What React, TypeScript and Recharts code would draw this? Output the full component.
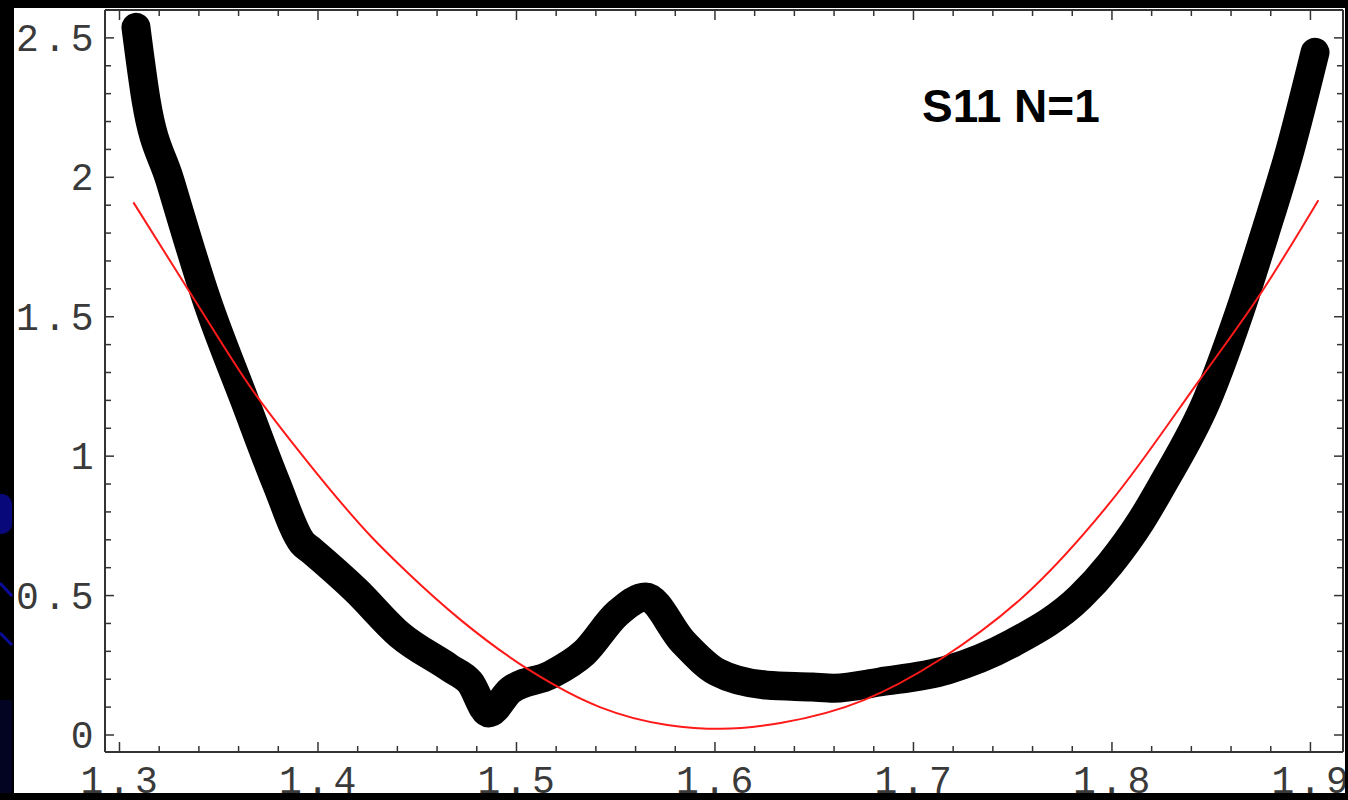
import React from 'react';
import { ComposedChart, Line, XAxis, YAxis } from 'recharts';

// measured curve (thick dotted trace)
const measuredX = [
  1.3083, 1.3134, 1.3254, 1.344, 1.363, 1.379, 1.392, 1.397, 1.419, 1.441, 1.4665, 1.4765, 1.486,
  1.497, 1.517, 1.534, 1.551, 1.565, 1.584, 1.601, 1.626, 1.649, 1.66, 1.683, 1.717, 1.75, 1.784,
  1.799, 1.8146, 1.8256, 1.8478, 1.8634, 1.8771, 1.8897, 1.9023,
];
const measuredY = [
  2.538, 2.276, 1.989, 1.559, 1.201, 0.903, 0.69, 0.66, 0.52, 0.36, 0.24, 0.19, 0.079,
  0.161, 0.215, 0.294, 0.437, 0.495, 0.333, 0.226, 0.179, 0.172, 0.168, 0.19, 0.233, 0.33, 0.495,
  0.613, 0.767, 0.9, 1.2, 1.498, 1.8, 2.097, 2.448,
];

// fitted curve (thin red)
const fitX = [
  1.307, 1.337, 1.366, 1.394, 1.427, 1.444, 1.472, 1.508, 1.542, 1.576, 1.603, 1.633, 1.675, 1.713,
  1.759, 1.8, 1.843, 1.876, 1.904,
];
const fitY = [
  1.91, 1.57, 1.247, 0.986, 0.71, 0.59, 0.412, 0.226, 0.1, 0.036, 0.022, 0.043, 0.125, 0.269, 0.52,
  0.842, 1.262, 1.595, 1.918,
];

const xMajor = [1.3, 1.4, 1.5, 1.6, 1.7, 1.8, 1.9];
const yMajor = [0, 0.5, 1, 1.5, 2, 2.5];
const xTicks = Array.from({ length: 31 }, (_, i) => +(1.3 + i * 0.02).toFixed(2));
const yTicks = Array.from({ length: 27 }, (_, i) => +(i * 0.1).toFixed(1));

const measured = measuredX.map((x, i) => ({ x, y: measuredY[i] }));
const fit = fitX.map((x, i) => ({ x, y: fitY[i] }));

const isMajor = (v: number, list: number[]) => list.some((m) => Math.abs(m - v) < 1e-6);

const axisColor = '#333';
const labelFont = { fontFamily: '"Liberation Mono", "Courier New", monospace', fontSize: 38, letterSpacing: 4.5, fill: '#3a3a3a' };

const BottomTick = (props: any) => {
  const { x, y, payload } = props;
  const major = isMajor(payload.value, xMajor);
  return (
    <g>
      <line x1={x} x2={x} y1={y} y2={y - (major ? 10 : 6)} stroke={axisColor} strokeWidth={1.5} />
      {major && (
        <text x={x + 2} y={793} textAnchor="middle" {...labelFont}>
          {payload.value.toFixed(1)}
        </text>
      )}
    </g>
  );
};

const TopTick = (props: any) => {
  const { x, y, payload } = props;
  const major = isMajor(payload.value, xMajor);
  return <line x1={x} x2={x} y1={y} y2={y + (major ? 10 : 6)} stroke={axisColor} strokeWidth={1.5} />;
};

const LeftTick = (props: any) => {
  const { x, y, payload } = props;
  const major = isMajor(payload.value, yMajor);
  return (
    <g>
      <line x1={x} x2={x + (major ? 9 : 6)} y1={y} y2={y} stroke={axisColor} strokeWidth={1.5} />
      {major && (
        <text x={x - 7} y={y + 13} textAnchor="end" {...labelFont}>
          {String(payload.value)}
        </text>
      )}
    </g>
  );
};

const RightTick = (props: any) => {
  const { x, y, payload } = props;
  const major = isMajor(payload.value, yMajor);
  return <line x1={x} x2={x - (major ? 9 : 6)} y1={y} y2={y} stroke={axisColor} strokeWidth={1.5} />;
};

export default function App() {
  return (
    <div style={{ position: 'absolute', left: 0, top: 0, width: 1348, height: 800, background: '#fff', overflow: 'hidden' }}>
      <ComposedChart width={1348} height={800} margin={{ top: 0, right: 0, bottom: 0, left: 0 }}>
        <XAxis
          xAxisId="b"
          type="number"
          dataKey="x"
          orientation="bottom"
          domain={[1.2927, 1.9164]}
          allowDataOverflow
          ticks={xTicks}
          interval={0}
          height={48}
          tickSize={0}
          tickMargin={0}
          tickLine={false}
          axisLine={{ stroke: axisColor, strokeWidth: 2 }}
          tick={<BottomTick />}
        />
        <XAxis
          xAxisId="t"
          type="number"
          dataKey="x"
          orientation="top"
          domain={[1.2927, 1.9164]}
          allowDataOverflow
          ticks={xTicks}
          interval={0}
          height={10}
          tickSize={0}
          tickMargin={0}
          tickLine={false}
          axisLine={{ stroke: axisColor, strokeWidth: 2 }}
          tick={<TopTick />}
        />
        <YAxis
          yAxisId="l"
          type="number"
          orientation="left"
          domain={[-0.061, 2.6]}
          allowDataOverflow
          ticks={yTicks}
          interval={0}
          width={105}
          tickSize={0}
          tickMargin={0}
          tickLine={false}
          axisLine={{ stroke: axisColor, strokeWidth: 2 }}
          tick={<LeftTick />}
        />
        <YAxis
          yAxisId="r"
          type="number"
          orientation="right"
          domain={[-0.061, 2.6]}
          allowDataOverflow
          ticks={yTicks}
          interval={0}
          width={5}
          tickSize={0}
          tickMargin={0}
          tickLine={false}
          axisLine={{ stroke: axisColor, strokeWidth: 2 }}
          tick={<RightTick />}
        />
        <Line
          xAxisId="b"
          yAxisId="l"
          data={measured}
          dataKey="y"
          type="monotone"
          stroke="#000"
          strokeWidth={29}
          strokeLinecap="round"
          strokeLinejoin="round"
          dot={false}
          activeDot={false}
          isAnimationActive={false}
        />
        <Line
          xAxisId="b"
          yAxisId="l"
          data={fit}
          dataKey="y"
          type="monotone"
          stroke="#ff1a1a"
          strokeWidth={2}
          dot={false}
          activeDot={false}
          isAnimationActive={false}
        />
      </ComposedChart>
      <svg width={1348} height={800} style={{ position: 'absolute', left: 0, top: 0, pointerEvents: 'none' }}>
        <text x={922} y={122} fontFamily='"Liberation Sans", Arial, sans-serif' fontWeight="bold" fontSize={46} fill="#000">
          S11 N=1
        </text>
        {/* slide background around the figure */}
        <rect x={0} y={0} width={14} height={800} fill="#000" />
        <rect x={0} y={0} width={1348} height={8} fill="#000" />
        <rect x={0} y={793} width={1348} height={7} fill="#000" />
        <rect x={1345} y={0} width={3} height={800} fill="#000" />
        <rect x={-10} y={494} width={22} height={40} rx={10} fill="#08087a" />
        <line x1={0} y1={583} x2={12} y2={596} stroke="#0c0c9a" strokeWidth={3} />
        <line x1={0} y1={633} x2={12} y2={645} stroke="#0c0c9a" strokeWidth={3} />
        <rect x={0} y={700} width={12} height={93} fill="#030322" />
      </svg>
    </div>
  );
}
